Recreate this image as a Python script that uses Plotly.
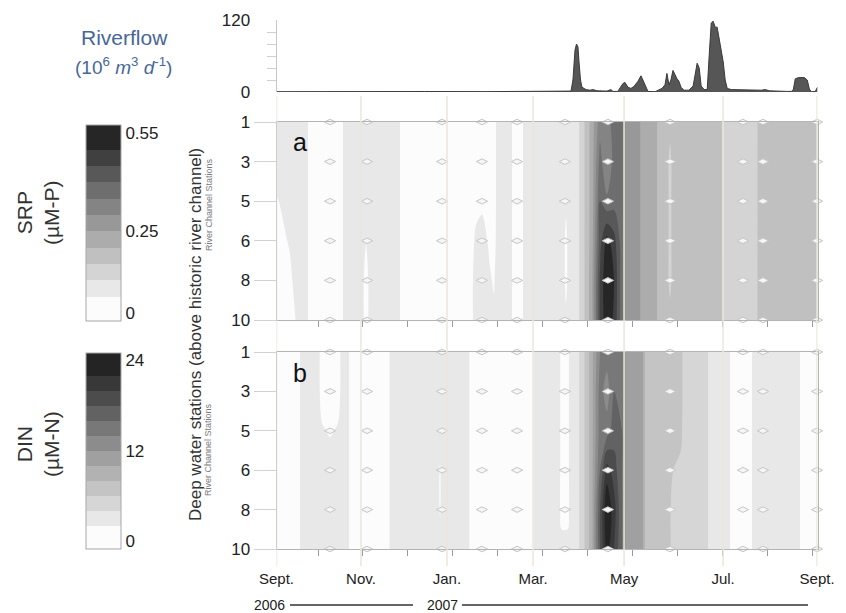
import numpy as np
import plotly.graph_objects as go

# ---------------------------------------------------------------- data
# time axis: days since 1 Sept 2006
STATIONS = ["1", "3", "5", "6", "8", "10"]
STATION_POS = list(range(len(STATIONS)))

GRID_DAYS = [0, 57.0, 115.0, 173.1, 234.5, 301.3, 364.7]
MONTH_LABELS = ["Sept.", "Nov.", "Jan.", "Mar.", "May", "Jul.", "Sept."]

SAMPLE_DAYS = [36.1, 61.1, 111.7, 138.6, 162.3, 194.6, 223.6, 265.5, 314.7, 328.2, 364.7]

# river discharge (10^6 m3 d-1)
FLOW_DAYS = [0, 20, 60, 100, 140, 191.3, 198.7, 200.0, 201.4, 202.4, 203.4, 204.1, 205.1, 206.1, 208.8,
             211.5, 213.5, 216.2, 222.9, 225.6, 227.0, 230.3, 231.7, 233.7, 235.1,
             237.1, 239.1, 241.1, 243.9, 245.9, 247.2, 249.3, 250.6, 255.4, 257.4,
             260.1, 262.1, 263.4, 264.8, 266.1, 267.5, 268.8, 270.2, 271.5, 272.9,
             274.9, 278.3, 281.1, 282.5, 283.8, 285.2, 286.5, 288.5, 290.6, 291.9,
             293.3, 294.6, 296.0, 297.3, 298.7, 300.0, 301.4, 302.7, 304.1, 306.8,
             316.9, 327.1, 329.8, 332.5, 344.0, 347.3, 348.7, 350.0, 352.1, 356.1,
             358.1, 359.5, 360.8, 363.5, 365]
FLOW = [0.5, 0.8, 1.2, 0.8, 0.6, 1, 1.5, 20, 70, 80, 75, 50, 20, 8, 4,
        3, 4, 2, 1.5, 4, 1, 1, 6, 14, 16,
        8, 6, 9, 18, 27, 20, 8, 1, 0.5, 3,
        6, 12, 31, 12, 20, 36, 28, 22, 18, 8,
        3, 3, 10, 30, 48, 40, 10, 4, 4, 60,
        115, 118, 108, 108, 90, 70, 50, 20, 6, 4,
        3, 3, 4, 2, 1, 1, 4, 22, 24, 24,
        20, 5, 0.5, 1, 8]

# SRP (uM-P): profile at each day, stations 1,3,5,6,8,10
SRP_DAYS = [0, 9.1, 13.8, 19.9, 22.6, 42.8, 46.9, 57.0, 60.4, 63.8, 81.3, 85.3,
            130.5, 134.6, 138.6, 144.0, 146.7, 149.4, 156.9, 160.9, 164.3, 168.3,
            193.3, 195.3, 197.4, 202.7, 206.1, 209.5, 212.9, 218.3, 222.9, 227.7,
            233.1, 235.8, 243.9, 246.6, 255.4, 258.1, 263.4, 265.5, 267.5,
            299.2, 301.9, 322.8, 326.2, 365]
SRP_PROFILES = [
    [0.075, 0.075, 0.046, 0.03, 0.03, 0.03],
    [0.075, 0.075, 0.07, 0.055, 0.04, 0.03],
    [0.075, 0.075, 0.075, 0.075, 0.07, 0.055],
    [0.075] * 6,
    [0.025] * 6,
    [0.025] * 6,
    [0.075] * 6,
    [0.075] * 6,
    [0.075, 0.075, 0.075, 0.052, 0.03, 0.03],
    [0.075] * 6,
    [0.075] * 6,
    [0.025] * 6,
    [0.025] * 6,
    [0.025, 0.025, 0.035, 0.06, 0.075, 0.075],
    [0.025, 0.025, 0.04, 0.07, 0.075, 0.075],
    [0.025, 0.025, 0.025, 0.04, 0.055, 0.07],
    [0.025, 0.025, 0.025, 0.03, 0.045, 0.06],
    [0.075] * 6,
    [0.075] * 6,
    [0.025] * 6,
    [0.025] * 6,
    [0.075] * 6,
    [0.075] * 6,
    [0.075, 0.075, 0.06, 0.035, 0.035, 0.06],
    [0.075] * 6,
    [0.08] * 6,
    [0.125] * 6,
    [0.175] * 6,
    [0.225, 0.225, 0.225, 0.23, 0.24, 0.24],
    [0.33, 0.37, 0.40, 0.43, 0.46, 0.46],
    [0.34, 0.30, 0.36, 0.52, 0.545, 0.54],
    [0.36, 0.37, 0.38, 0.47, 0.50, 0.49],
    [0.37] * 6,
    [0.28] * 6,
    [0.28] * 6,
    [0.225] * 6,
    [0.225] * 6,
    [0.175] * 6,
    [0.175] * 6,
    [0.175, 0.13, 0.13, 0.13, 0.13, 0.175],
    [0.175] * 6,
    [0.175] * 6,
    [0.125] * 6,
    [0.125] * 6,
    [0.175] * 6,
    [0.175] * 6,
]

# DIN (uM-N): profile at each day, stations 1,3,5,6,8,10
DIN_DAYS = [0, 14.5, 17.2, 27.3, 30.7, 36.1, 41.5, 44.9, 47.6, 50.3, 74.9, 77.6,
            108.3, 110.3, 112.3, 128.8, 131.5, 172.4, 175.1, 189.6, 192.3, 196.4, 199.1,
            202.7, 206.1, 209.5, 212.9, 218.3, 222.9, 227.7, 233.1, 235.8, 246.6, 249.3,
            257.4, 272.9, 274.9, 289.8, 292.5, 304.6, 307.3, 319.5, 322.2, 351.8, 354.6, 365]
DIN_PROFILES = [
    [1] * 6,
    [1] * 6,
    [3] * 6,
    [3] * 6,
    [1.2, 1.2, 2.2, 3, 3, 3],
    [1.0, 1.0, 1.8, 3, 3, 3],
    [1.2, 1.2, 2.2, 3, 3, 3],
    [3] * 6,
    [3] * 6,
    [1] * 6,
    [1] * 6,
    [3] * 6,
    [3] * 6,
    [3, 3, 3, 1.8, 1.8, 3],
    [3] * 6,
    [3] * 6,
    [1] * 6,
    [1] * 6,
    [3] * 6,
    [3] * 6,
    [1.5, 1.5, 1.5, 1.5, 1.5, 2.5],
    [1.5, 1.5, 1.5, 1.5, 1.5, 2.5],
    [3] * 6,
    [3.2] * 6,
    [5] * 6,
    [7] * 6,
    [9.5] * 6,
    [14, 15, 15, 16, 18, 18],
    [15, 13, 15, 21, 23.8, 23],
    [16, 16, 17, 19, 21, 20],
    [16] * 6,
    [11] * 6,
    [11] * 6,
    [7] * 6,
    [7] * 6,
    [7, 7, 6.5, 5.5, 5.2, 5.2],
    [5] * 6,
    [5] * 6,
    [3] * 6,
    [3] * 6,
    [1] * 6,
    [1] * 6,
    [3] * 6,
    [3] * 6,
    [1] * 6,
    [1] * 6,
]

SRP_TICKS = [0, 0.25, 0.55]
DIN_TICKS = [0, 12, 24]

# ---------------------------------------------------------------- styling
W, H = 846, 613
SRP_GREYS = ["#fcfcfc", "#e8e8e8", "#d4d4d4", "#c0c0c0", "#acacac", "#989898",
             "#848484", "#6e6e6e", "#585858", "#404040", "#262626"]
DIN_GREYS = ["#fcfcfc", "#e8e8e8", "#d6d6d6", "#c4c4c4", "#b2b2b2", "#a0a0a0",
             "#8c8c8c", "#787878", "#626262", "#4c4c4c", "#383838", "#242424"]
FONT = "Liberation Sans, Arial, sans-serif"
TXT = "#222222"
FRAME = "#b4b4b4"


def fx(p):
    return p / W


def fy(p):
    return 1 - p / H


def band_scale(colors):
    # one flat colour per filled band between contour levels
    n = len(colors) + 1
    pts = [[0.0, colors[0]]]
    for k, c in enumerate(colors):
        pts.append([(k + 1) / n, c])
    pts.append([1.0, colors[-1]])
    return pts


XD = [fx(276.5), fx(817.5)]

fig = go.Figure()

# river flow
fig.add_trace(go.Scatter(
    x=FLOW_DAYS, y=FLOW, mode="lines", fill="tozeroy",
    fillcolor="#565656", line=dict(color="#3a3a3a", width=1),
    xaxis="x", yaxis="y", hoverinfo="skip", showlegend=False))

# SRP section
fig.add_trace(go.Contour(
    x=SRP_DAYS, y=STATION_POS, z=np.array(SRP_PROFILES).T,
    autocontour=False,
    contours=dict(start=0, end=0.55, size=0.05, coloring="fill", showlines=False),
    line=dict(width=0, smoothing=0.9),
    colorscale=band_scale(SRP_GREYS),
    colorbar=dict(x=fx(86), xanchor="left", y=fy(223), yanchor="middle",
                  len=196, lenmode="pixels", thickness=35, thicknessmode="pixels",
                  xpad=0, ypad=0, outlinecolor="#a8a8a8", outlinewidth=1,
                  tickmode="array", tickvals=SRP_TICKS,
                  ticktext=[f"{v:g}" for v in SRP_TICKS], ticks="",
                  tickfont=dict(family=FONT, size=17, color=TXT)),
    xaxis="x2", yaxis="y2", hoverinfo="skip", showlegend=False))

# DIN section
fig.add_trace(go.Contour(
    x=DIN_DAYS, y=STATION_POS, z=np.array(DIN_PROFILES).T,
    autocontour=False,
    contours=dict(start=0, end=24, size=2, coloring="fill", showlines=False),
    line=dict(width=0, smoothing=0.9),
    colorscale=band_scale(DIN_GREYS),
    colorbar=dict(x=fx(86), xanchor="left", y=fy(451), yanchor="middle",
                  len=196, lenmode="pixels", thickness=35, thicknessmode="pixels",
                  xpad=0, ypad=0, outlinecolor="#a8a8a8", outlinewidth=1,
                  tickmode="array", tickvals=DIN_TICKS,
                  ticktext=[f"{v:g}" for v in DIN_TICKS], ticks="",
                  tickfont=dict(family=FONT, size=17, color=TXT)),
    xaxis="x3", yaxis="y3", hoverinfo="skip", showlegend=False))

# sampling points
sx = [d for d in SAMPLE_DAYS for _ in STATION_POS]
sy = [s for _ in SAMPLE_DAYS for s in STATION_POS]
for xa, ya in (("x2", "y2"), ("x3", "y3")):
    fig.add_trace(go.Scatter(
        x=sx, y=sy, mode="markers", cliponaxis=False,
        marker=dict(symbol="diamond-wide", size=8, color="#f6f6f6",
                    line=dict(color="#c6c6c6", width=1)),
        xaxis=xa, yaxis=ya, hoverinfo="skip", showlegend=False))

panel_x = dict(domain=XD, range=[0, 365], showgrid=False, zeroline=False)
station_y = dict(range=[5, 0], tickmode="array", tickvals=STATION_POS, ticktext=STATIONS,
                 ticks="outside", ticklen=22, tickcolor="#d2d2d2", showgrid=False,
                 zeroline=False, showline=True, mirror=True, linecolor=FRAME,
                 tickfont=dict(family=FONT, size=17, color=TXT))
month_minor = dict(tickmode="linear", tick0=28, dtick=30.35, ticks="outside",
                   ticklen=6, tickcolor="#9a9a9a")

fig.update_layout(
    width=W, height=H, autosize=False,
    margin=dict(l=0, r=0, t=0, b=0, pad=0, autoexpand=False),
    paper_bgcolor="white", plot_bgcolor="white",
    font=dict(family=FONT, color=TXT),
    showlegend=False,
    xaxis=dict(**panel_x, anchor="y", showticklabels=False, ticks="", showline=False),
    yaxis=dict(domain=[fy(92), fy(20)], range=[0, 120], anchor="x",
               tickmode="array", tickvals=[0, 120], ticks="outside", ticklen=22,
               tickcolor="rgba(0,0,0,0)", showline=True, linecolor="#c8c8c8",
               showgrid=False, zeroline=False,
               minor=dict(tickmode="array", tickvals=[20, 40, 60, 80, 100],
                          ticks="outside", ticklen=9, tickcolor="#d0d0d0"),
               tickfont=dict(family=FONT, size=17, color=TXT)),
    xaxis2=dict(**panel_x, anchor="y2", showticklabels=False, ticks="",
                showline=True, mirror=True, linecolor=FRAME, minor=month_minor),
    yaxis2=dict(**station_y, domain=[fy(320), fy(122)], anchor="x2"),
    xaxis3=dict(**panel_x, anchor="y3", tickmode="array", tickvals=GRID_DAYS,
                ticktext=MONTH_LABELS, ticks="outside", ticklen=16,
                tickcolor="rgba(0,0,0,0)", showline=True, mirror=True,
                linecolor=FRAME, minor=month_minor,
                tickfont=dict(family=FONT, size=15, color=TXT)),
    yaxis3=dict(**station_y, domain=[fy(549), fy(352)], anchor="x3"),
)

shapes = []
# month grid lines running through all panels
for d in GRID_DAYS:
    shapes.append(dict(type="line", xref="x", yref="paper", x0=d, x1=d,
                       y0=fy(566), y1=fy(96), layer="above",
                       line=dict(color="#ebe6d8", width=1.5)))
# year rules under the month labels
for a, b in ((290, 413), (462, 808)):
    shapes.append(dict(type="line", xref="paper", yref="paper",
                       x0=fx(a), x1=fx(b), y0=fy(605), y1=fy(605),
                       line=dict(color="#333333", width=1.5)))
fig.update_layout(shapes=shapes)

ann = [
    dict(x=fx(125), y=fy(38), text="Riverflow", font=dict(size=21, color="#46679b")),
    dict(x=fx(124), y=fy(66),
         text="(10<sup>6</sup> <i>m</i><sup>3</sup> <i>d</i><sup>-1</sup>)",
         font=dict(size=19, color="#46679b")),
    dict(x=fx(38), y=fy(213), text="SRP<br>(µM-P)", textangle=-90,
         font=dict(size=21, color="#333333")),
    dict(x=fx(38), y=fy(444), text="DIN<br>(µM-N)", textangle=-90,
         font=dict(size=21, color="#333333")),
    dict(x=fx(195), y=fy(335), text="Deep water stations (above historic river channel)",
         textangle=-90, font=dict(size=17, color="#333333")),
    dict(x=fx(209), y=fy(205), text="River Channel Stations", textangle=-90,
         font=dict(size=9, color="#7a7a7a")),
    dict(x=fx(208), y=fy(450), text="River Channel Stations", textangle=-90,
         font=dict(size=9, color="#7a7a7a")),
    dict(x=fx(300), y=fy(142), text="a", font=dict(size=25, color="#111111")),
    dict(x=fx(300), y=fy(373), text="b", font=dict(size=25, color="#111111")),
    dict(x=fx(269), y=fy(605), text="2006", font=dict(size=14, color="#222222")),
    dict(x=fx(442), y=fy(605), text="2007", font=dict(size=14, color="#222222")),
]
for a in ann:
    a.update(xref="paper", yref="paper", showarrow=False, xanchor="center", yanchor="middle")
    a["font"]["family"] = FONT
fig.update_layout(annotations=ann)

fig.write_html("out.html")
